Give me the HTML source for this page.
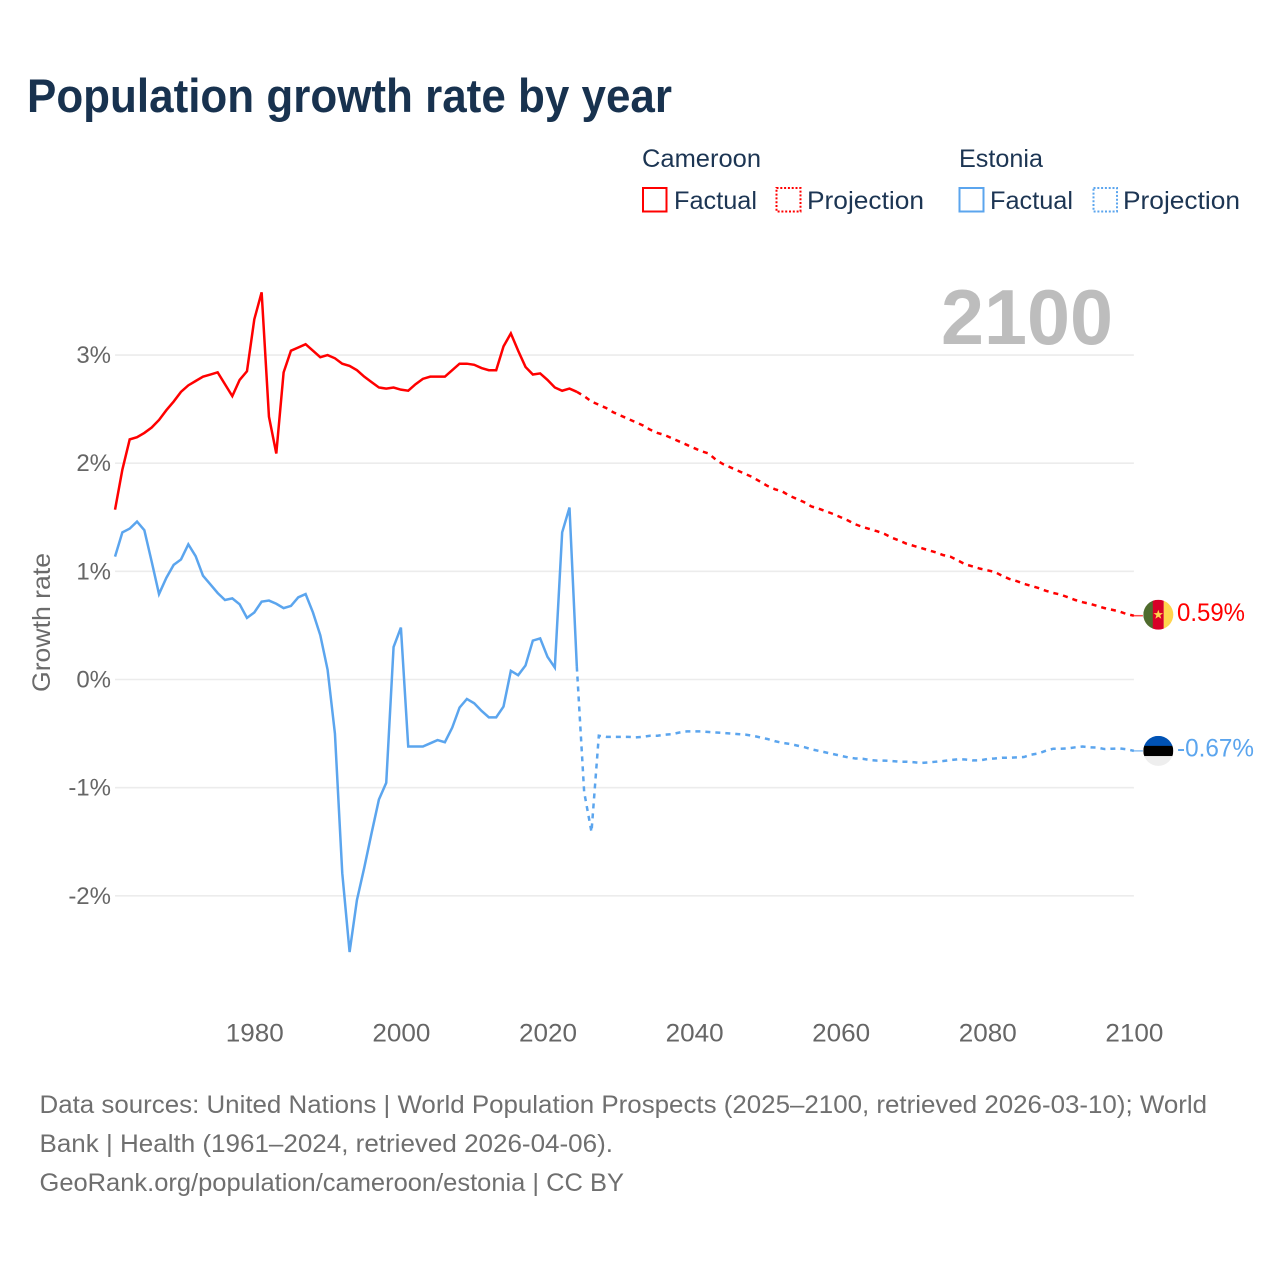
<!DOCTYPE html>
<html lang="en">
<head>
<meta charset="utf-8">
<title>Population growth rate by year</title>
<style>
html,body{margin:0;padding:0;background:#fff;}
svg{display:block;font-family:"Liberation Sans",sans-serif;}
</style>
</head>
<body>
<svg id="chart" xmlns="http://www.w3.org/2000/svg" width="1280" height="1280" viewBox="0 0 1280 1280">
  <rect x="0" y="0" width="1280" height="1280" fill="#ffffff"/>
  <text x="27" y="112" font-size="47" font-weight="700" fill="#18324f" textLength="645" lengthAdjust="spacingAndGlyphs">Population growth rate by year</text>

  <g font-size="25" fill="#1c3553">
    <text x="642" y="167" textLength="119" lengthAdjust="spacingAndGlyphs">Cameroon</text>
    <rect x="643" y="188" width="23.5" height="23.5" fill="none" stroke="#ff0000" stroke-width="2"/>
    <text x="674" y="209" textLength="83" lengthAdjust="spacingAndGlyphs">Factual</text>
    <rect x="776.5" y="188" width="24" height="23.5" fill="none" stroke="#ff0000" stroke-width="2" stroke-dasharray="2 1.8"/>
    <text x="807" y="209" textLength="117" lengthAdjust="spacingAndGlyphs">Projection</text>
    <text x="959" y="167" textLength="84" lengthAdjust="spacingAndGlyphs">Estonia</text>
    <rect x="959.5" y="188" width="24" height="23.5" fill="none" stroke="#5ba5ee" stroke-width="2"/>
    <text x="990" y="209" textLength="83" lengthAdjust="spacingAndGlyphs">Factual</text>
    <rect x="1093.5" y="188" width="23.5" height="23.5" fill="none" stroke="#5ba5ee" stroke-width="2" stroke-dasharray="2 1.8"/>
    <text x="1123" y="209" textLength="117" lengthAdjust="spacingAndGlyphs">Projection</text>
  </g>

  <text transform="translate(50,692) rotate(-90)" font-size="25" fill="#6b6b6b" textLength="139" lengthAdjust="spacingAndGlyphs">Growth rate</text>

  <g id="grid"></g>
  <g id="yticks" font-size="24" fill="#666666" text-anchor="end"></g>
  <g id="xticks" font-size="25" fill="#666666" text-anchor="middle"></g>

  <text x="941" y="344" font-size="78" font-weight="700" fill="#bdbdbd" textLength="172" lengthAdjust="spacingAndGlyphs">2100</text>

  <g id="series"></g>

  <g id="flag-cameroon">
    <clipPath id="clip-cm"><circle cx="0" cy="0" r="15"/></clipPath>
    <g clip-path="url(#clip-cm)">
      <rect x="-15" y="-15" width="10" height="30" fill="#4f6b2d"/>
      <rect x="-5.5" y="-15" width="11" height="30" fill="#d80027"/>
      <rect x="5.5" y="-15" width="10" height="30" fill="#ffd44d"/>
      <polygon points="0,-5 1.2,-1.6 4.8,-1.6 1.9,0.6 3,4 0,2 -3,4 -1.9,0.6 -4.8,-1.6 -1.2,-1.6" fill="#ffd44d"/>
    </g>
  </g>
  <g id="flag-estonia">
    <clipPath id="clip-ee"><circle cx="0" cy="0" r="15"/></clipPath>
    <g clip-path="url(#clip-ee)">
      <rect x="-15" y="-15" width="30" height="10.2" fill="#0052b4"/>
      <rect x="-15" y="-5" width="30" height="10.4" fill="#000000"/>
      <rect x="-15" y="5.2" width="30" height="10" fill="#eeeeee"/>
    </g>
  </g>
  <g id="end-labels" font-size="25"></g>

  <g font-size="25" fill="#6f6f6f">
    <text x="39.5" y="1113" textLength="1167.5" lengthAdjust="spacingAndGlyphs">Data sources: United Nations | World Population Prospects (2025–2100, retrieved 2026-03-10); World</text>
    <text x="39.5" y="1152" textLength="573.5" lengthAdjust="spacingAndGlyphs">Bank | Health (1961–2024, retrieved 2026-04-06).</text>
    <text x="39.5" y="1191" textLength="584.5" lengthAdjust="spacingAndGlyphs">GeoRank.org/population/cameroon/estonia | CC BY</text>
  </g>
</svg>
<script>
const xTickYears = [1980, 2000, 2020, 2040, 2060, 2080, 2100];
const yTickValues = [3, 2, 1, 0, -1, -2];
const yTickLabels = ['3%', '2%', '1%', '0%', '-1%', '-2%'];

const firstFactualYear = 1961;
const firstProjectionYear = 2024;

const cameroonFactual = [
  1.57, 1.94, 2.22, 2.24, 2.28, 2.33, 2.40, 2.49, 2.57, 2.66,
  2.72, 2.76, 2.80, 2.82, 2.84, 2.73, 2.62, 2.77, 2.85, 3.33,
  3.58, 2.43, 2.09, 2.84, 3.04, 3.07, 3.10, 3.04, 2.98, 3.00,
  2.97, 2.92, 2.90, 2.86, 2.80, 2.75, 2.70, 2.69, 2.70, 2.68,
  2.67, 2.73, 2.78, 2.80, 2.80, 2.80, 2.86, 2.92, 2.92, 2.91,
  2.88, 2.86, 2.86, 3.08, 3.20, 3.04, 2.89, 2.82, 2.83, 2.77,
  2.70, 2.67, 2.69, 2.66
];
const cameroonProjection = [
  2.66, 2.62, 2.57, 2.54, 2.51, 2.47, 2.44, 2.41, 2.38, 2.35, 2.31,
  2.28, 2.26, 2.23, 2.20, 2.17, 2.14, 2.11, 2.09, 2.03, 1.99,
  1.96, 1.93, 1.90, 1.87, 1.83, 1.79, 1.76, 1.74, 1.70, 1.67,
  1.64, 1.60, 1.58, 1.555, 1.53, 1.50, 1.47, 1.435, 1.41, 1.39,
  1.37, 1.345, 1.31, 1.285, 1.255, 1.235, 1.215, 1.195, 1.175, 1.15,
  1.135, 1.10, 1.065, 1.045, 1.025, 1.01, 0.995, 0.96, 0.93, 0.91,
  0.885, 0.865, 0.845, 0.82, 0.80, 0.785, 0.76, 0.735, 0.715, 0.70,
  0.68, 0.66, 0.645, 0.63, 0.605, 0.59
];
const estoniaFactual = [
  1.136, 1.36, 1.395, 1.46, 1.38, 1.09, 0.79, 0.94, 1.06, 1.11,
  1.25, 1.14, 0.96, 0.88, 0.80, 0.735, 0.75, 0.695, 0.57, 0.62,
  0.72, 0.73, 0.70, 0.66, 0.68, 0.76, 0.79, 0.62, 0.41, 0.09,
  -0.50, -1.79, -2.52, -2.04, -1.74, -1.42, -1.11, -0.955, 0.30, 0.48,
  -0.62, -0.62, -0.62, -0.59, -0.56, -0.58, -0.445, -0.26, -0.18, -0.22,
  -0.29, -0.35, -0.35, -0.25, 0.08, 0.04, 0.13, 0.36, 0.38, 0.21,
  0.11, 1.36, 1.59, 0.12
];
const estoniaProjection = [
  0.12, -1.04, -1.41, -0.52, -0.53, -0.53, -0.53, -0.53, -0.535, -0.53, -0.52,
  -0.52, -0.51, -0.505, -0.49, -0.48, -0.48, -0.48, -0.485, -0.49, -0.495,
  -0.50, -0.505, -0.51, -0.52, -0.535, -0.55, -0.57, -0.585, -0.595, -0.61,
  -0.625, -0.645, -0.66, -0.675, -0.69, -0.705, -0.72, -0.73, -0.733, -0.745,
  -0.75, -0.75, -0.754, -0.76, -0.76, -0.765, -0.772, -0.767, -0.76, -0.754,
  -0.745, -0.738, -0.74, -0.748, -0.748, -0.735, -0.73, -0.723, -0.723, -0.72,
  -0.717, -0.695, -0.683, -0.658, -0.64, -0.64, -0.637, -0.627, -0.62, -0.627,
  -0.63, -0.643, -0.64, -0.637, -0.645, -0.66
];
const endLabels = ['0.59%', '-0.67%'];

const NS = 'http://www.w3.org/2000/svg';
const RED = '#ff0000';
const BLUE = '#5ba5ee';

function xScale(year) { return 254.3 + (year - 1980) * 7.33; }
function yScale(value) { return 679.5 - 108.15 * value; }

function linePoints(values, startYear) {
  return values.map(function (v, i) {
    return xScale(startYear + i).toFixed(2) + ',' + yScale(v).toFixed(2);
  }).join(' ');
}

const gridGroup = document.getElementById('grid');
const yGroup = document.getElementById('yticks');
yTickValues.forEach(function (v, i) {
  const line = document.createElementNS(NS, 'line');
  
  
  line.setAttribute('x1', xScale(1961));
  line.setAttribute('x2', xScale(2100));
  line.setAttribute('y1', yScale(v));
  line.setAttribute('y2', yScale(v));
  line.setAttribute('stroke', '#ececec');
  line.setAttribute('stroke-width', '1.6');
  gridGroup.appendChild(line);

  const label = document.createElementNS(NS, 'text');
  
  
  label.setAttribute('x', 111);
  label.setAttribute('y', yScale(v) + 8);
  label.textContent = yTickLabels[i];
  yGroup.appendChild(label);
});

const xGroup = document.getElementById('xticks');
xTickYears.forEach(function (year) {
  const label = document.createElementNS(NS, 'text');
  
  
  label.setAttribute('x', xScale(year) + 0.5);
  label.setAttribute('y', 1041.5);
  label.setAttribute('textLength', '58');
  label.setAttribute('lengthAdjust', 'spacingAndGlyphs');
  label.textContent = String(year);
  xGroup.appendChild(label);
});

function drawLine(values, startYear, color, dashed, name) {
  const line = document.createElementNS(NS, 'polyline');
  
  
  line.setAttribute('points', linePoints(values, startYear));
  line.setAttribute('fill', 'none');
  line.setAttribute('stroke', color);
  line.setAttribute('stroke-width', '2.5');
  line.setAttribute('stroke-linejoin', 'miter');
  if (dashed) {
    line.setAttribute('stroke-dasharray', '5 5');
  }
  document.getElementById('series').appendChild(line);
}

drawLine(estoniaFactual, firstFactualYear, BLUE, false, 'estonia-factual-line');
drawLine(estoniaProjection, firstProjectionYear, BLUE, true, 'estonia-projection-line');
drawLine(cameroonFactual, firstFactualYear, RED, false, 'cameroon-factual-line');
drawLine(cameroonProjection, firstProjectionYear, RED, true, 'cameroon-projection-line');

function drawEnd(values, color, flagId, labelText, labelLength, name, flagShift) {
  const last = values[values.length - 1];
  const px = xScale(2100);
  const py = yScale(last);

  const connector = document.createElementNS(NS, 'line');
  
  
  connector.setAttribute('x1', px);
  connector.setAttribute('x2', px + 9);
  connector.setAttribute('y1', py);
  connector.setAttribute('y2', py);
  connector.setAttribute('stroke', color);
  connector.setAttribute('stroke-width', '1.5');
  connector.setAttribute('opacity', '0.7');
  document.getElementById('series').appendChild(connector);

  document.getElementById(flagId).setAttribute('transform', 'translate(' + (px + 24.4) + ',' + (py + flagShift) + ')');

  const label = document.createElementNS(NS, 'text');
  
  
  label.setAttribute('x', px + 43.1);
  label.setAttribute('y', py + 5.5);
  label.setAttribute('fill', color);
  label.setAttribute('textLength', labelLength);
  label.setAttribute('lengthAdjust', 'spacingAndGlyphs');
  label.textContent = labelText;
  document.getElementById('end-labels').appendChild(label);
}

drawEnd(cameroonProjection, RED, 'flag-cameroon', endLabels[0], '68', 'cameroon', -1);
drawEnd(estoniaProjection, BLUE, 'flag-estonia', endLabels[1], '77', 'estonia', 0);
</script>
</body>
</html>
